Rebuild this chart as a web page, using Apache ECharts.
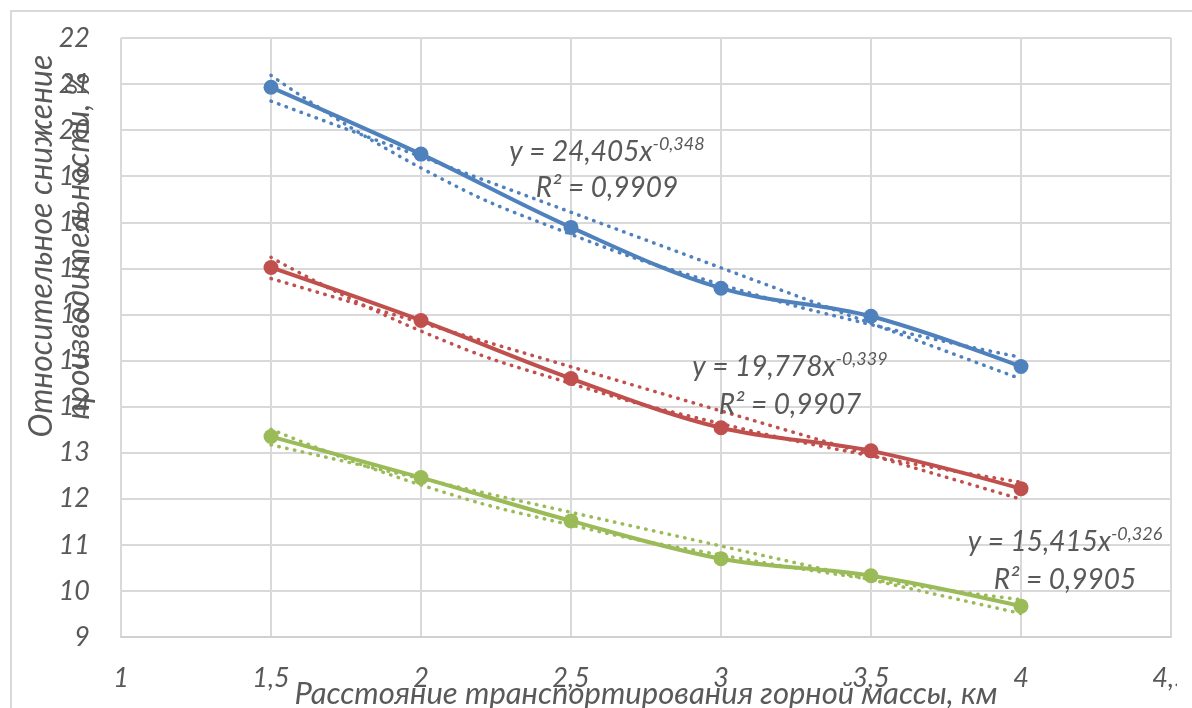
<!DOCTYPE html>
<html lang="ru">
<head>
<meta charset="utf-8">
<title>Снижение производительности</title>
<script src="https://cdn.jsdelivr.net/npm/echarts@6/dist/echarts.min.js"></script>
<style>
  html, body { margin: 0; padding: 0; background: #ffffff; overflow: hidden; }
  #frame { position: absolute; left: 10px; top: 10px; width: 1182px; height: 698px;
           border-left: 2px solid #d9d9d9; border-top: 2px solid #d9d9d9; }
  #chart { position: absolute; left: 0; top: 0; width: 1177px; height: 708px; }
</style>
</head>
<body>
<div id="frame"></div>
<div id="chart"></div>
<script>
// Расстояние транспортирования, км
const distances = [1.5, 2, 2.5, 3, 3.5, 4];

// Относительное снижение производительности по трём вариантам
const seriesBlue = [20.93, 19.48, 17.89, 16.57, 15.96, 14.87];
const seriesRed = [17.02, 15.87, 14.61, 13.54, 13.04, 12.22];
const seriesGreen = [13.35, 12.46, 11.52, 10.70, 10.33, 9.67];

// Степенные линии тренда (значения в тех же точках)
const powerBlue = [21.19, 19.18, 17.74, 16.65, 15.78, 15.07];
const powerRed = [17.24, 15.64, 14.50, 13.63, 12.93, 12.36];
const powerGreen = [13.51, 12.30, 11.43, 10.78, 10.25, 9.81];

// Линейные линии тренда: значения на концах диапазона
const linearEnds = [1.5, 4];
const linearBlue = [20.63, 14.60];
const linearRed = [16.78, 11.99];
const linearGreen = [13.17, 9.51];

// Подписи уравнений
const eqBlue = ['y = 24,405x', '-0,348', 'R² = 0,9909'];
const eqRed = ['y = 19,778x', '-0,339', 'R² = 0,9907'];
const eqGreen = ['y = 15,415x', '-0,326', 'R² = 0,9905'];

const xTitle = 'Расстояние транспортирования горной массы, км';
const yTitle = ['Относительное снижение', 'производительности, %'];

const COLORS = { blue: '#4F81BD', red: '#C0504D', green: '#9BBB59' };
const TEXT = '#595959';
const FONT = 'Lato, "Open Sans", "Noto Sans", sans-serif';

const pairs = (xs, ys) => xs.map((x, i) => [x, ys[i]]);
const comma = v => String(v).replace('.', ',');

function mainSeries(name, values, color) {
  return {
    name, type: 'line', data: pairs(distances, values), smooth: 0.35,
    symbol: 'circle', symbolSize: 15, z: 3,
    lineStyle: { color, width: 4 }, itemStyle: { color },
    emphasis: { disabled: true }
  };
}
function trendSeries(name, xs, values, color, smooth) {
  return {
    name, type: 'line', data: pairs(xs, values), smooth,
    symbol: 'none', z: 4, silent: true,
    lineStyle: { color, width: 3.5, type: [0.5, 7.5], cap: 'round' },
    emphasis: { disabled: true }
  };
}

function equation(eq, cx, y1, y2) {
  return [
    {
      type: 'text', x: cx, y: y1, z: 10,
      style: {
        text: '{m|' + eq[0] + '}{s|' + eq[1] + '}',
        align: 'center', verticalAlign: 'middle',
        rich: {
          m: { fontFamily: FONT, fontStyle: 'italic', fontSize: 28, lineHeight: 34, fill: TEXT, verticalAlign: 'middle' },
          s: { fontFamily: FONT, fontStyle: 'italic', fontSize: 18, lineHeight: 16, fill: TEXT, verticalAlign: 'top' }
        }
      }
    },
    {
      type: 'text', x: cx, y: y2, z: 10,
      style: {
        text: eq[2], align: 'center', verticalAlign: 'middle',
        fontFamily: FONT, fontStyle: 'italic', fontSize: 28, fill: TEXT
      }
    }
  ];
}

const chart = echarts.init(document.getElementById('chart'), null, { renderer: 'canvas' });

chart.setOption({
  animation: false,
  backgroundColor: 'transparent',
  grid: { left: 121, right: 6, top: 38, bottom: 71, containLabel: false, outerBoundsMode: 'none' },
  xAxis: {
    type: 'value', min: 1, max: 4.5, interval: 0.5,
    name: xTitle, nameLocation: 'middle', nameGap: 41, nameMoveOverlap: false,
    nameTextStyle: { fontFamily: FONT, fontStyle: 'italic', fontSize: 31, color: TEXT },
    axisLine: { show: true, lineStyle: { color: '#d0d0d0', width: 2 } },
    axisTick: { show: false },
    axisLabel: { margin: 28, formatter: comma, fontFamily: FONT, fontStyle: 'italic', fontSize: 27, color: TEXT, hideOverlap: false },
    splitLine: { show: true, lineStyle: { color: '#d9d9d9', width: 2 } }
  },
  yAxis: {
    type: 'value', min: 9, max: 22, interval: 1,
    axisLine: { show: false }, axisTick: { show: false },
    axisLabel: { margin: 31, formatter: comma, fontFamily: FONT, fontStyle: 'italic', fontSize: 27, color: TEXT },
    splitLine: { show: true, lineStyle: { color: '#d9d9d9', width: 2 } }
  },
  series: [
    mainSeries('Вариант 1', seriesBlue, COLORS.blue),
    mainSeries('Вариант 2', seriesRed, COLORS.red),
    mainSeries('Вариант 3', seriesGreen, COLORS.green),
    trendSeries('Степенная 1', distances, powerBlue, COLORS.blue, true),
    trendSeries('Степенная 2', distances, powerRed, COLORS.red, true),
    trendSeries('Степенная 3', distances, powerGreen, COLORS.green, true),
    trendSeries('Линейная 1', linearEnds, linearBlue, COLORS.blue, false),
    trendSeries('Линейная 2', linearEnds, linearRed, COLORS.red, false),
    trendSeries('Линейная 3', linearEnds, linearGreen, COLORS.green, false)
  ],
  graphic: [
    {
      type: 'text', x: 60, y: 246, rotation: Math.PI / 2, z: 10,
      style: {
        text: yTitle.join('\n'), align: 'center', verticalAlign: 'middle',
        lineHeight: 37, fontFamily: FONT, fontStyle: 'italic', fontSize: 32, fill: TEXT
      }
    },
    ...equation(eqBlue, 607, 152, 188),
    ...equation(eqRed, 790, 367, 405),
    ...equation(eqGreen, 1065, 542, 580)
  ]
});
</script>
</body>
</html>
